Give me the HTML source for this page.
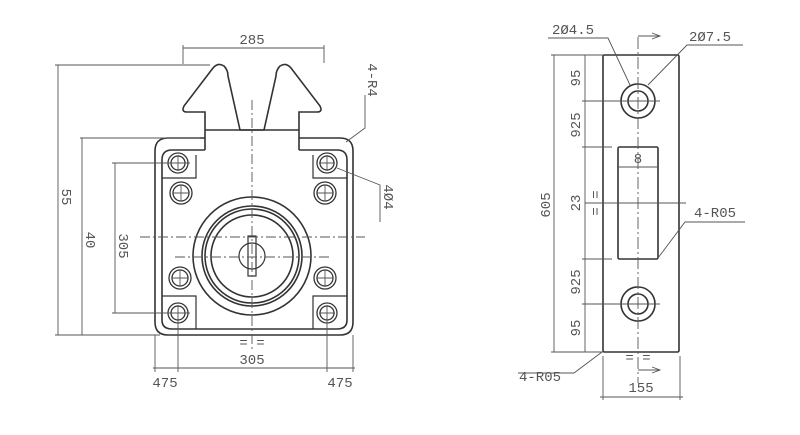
<!DOCTYPE html>
<html><head><meta charset="utf-8"><style>
html,body{margin:0;padding:0;background:#fff;}
svg{display:block}
text{font-family:"Liberation Mono","DejaVu Sans Mono",monospace;font-size:14px;fill:#555;}
</style></head><body>
<svg width="800" height="435" viewBox="0 0 800 435" xmlns="http://www.w3.org/2000/svg">
<g stroke="#333" fill="none" stroke-width="1.6">
 <path d="M205 138 H168 Q155 138 155 151 V322 Q155 335 168 335 H340 Q353 335 353 322 V151 Q353 138 340 138 H299"/>
 <path d="M205 150 H172 Q162 150 162 160 V320 Q162 329 172 329 H337 Q347 329 347 320 V160 Q347 150 337 150 H299"/>
 <path d="M205 150 V112 H187 Q181 112 184 106 L213 68 Q218 62 224 66 Q228 70 228 76 L240 130 H264 L276 76 Q276 70 280 66 Q286 62 291 68 L320 106 Q323 112 317 112 H299 V150"/>
 <path d="M205 130 H299"/>
 <path d="M162 178 H196 V155" stroke-width="1.2"/>
 <path d="M347 178 H313 V155" stroke-width="1.2"/>
 <path d="M162 296 H196 V329" stroke-width="1.2"/>
 <path d="M347 296 H313 V329" stroke-width="1.2"/>
 <g stroke-width="1.3">
 <circle cx="178" cy="163" r="10"/><circle cx="178" cy="163" r="7"/>
 <circle cx="327" cy="163" r="10"/><circle cx="327" cy="163" r="7"/>
 <circle cx="181" cy="193" r="11"/><circle cx="181" cy="193" r="8"/>
 <circle cx="325" cy="193" r="11"/><circle cx="325" cy="193" r="8"/>
 <circle cx="180" cy="278" r="11"/><circle cx="180" cy="278" r="8"/>
 <circle cx="325" cy="278" r="11"/><circle cx="325" cy="278" r="8"/>
 <circle cx="178" cy="313" r="10"/><circle cx="178" cy="313" r="7"/>
 <circle cx="327" cy="313" r="10"/><circle cx="327" cy="313" r="7"/>
 </g>
 <circle cx="252" cy="256" r="59"/>
 <circle cx="252" cy="256" r="50"/>
 <circle cx="252" cy="256" r="47"/>
 <circle cx="252" cy="256" r="41"/>
 <circle cx="252" cy="256" r="13" stroke-width="1.2"/>
 <rect x="248" y="236" width="8" height="40" stroke-width="1.2"/>
</g>
<g stroke="#555" fill="none" stroke-width="0.9">
 <path d="M252 100 V350" stroke-dasharray="10 3 2 3"/>
 <path d="M140 237 H365" stroke-dasharray="10 3 2 3"/>
 <path d="M175 257 H330" stroke-dasharray="10 3 2 3"/>
 <path d="M170 163 H190 M178 155 V171 M319 163 H335 M327 155 V171 M170 313 H190 M178 305 V321 M319 313 H335 M327 305 V321 M173 193 H189 M181 185 V201 M317 193 H333 M325 185 V201 M172 278 H188 M180 270 V286 M317 278 H333 M325 270 V286"/>
 <path d="M183 48 H324 M183 45 V64 M324 45 V63"/>
 <path d="M55 65 H210 M58 65 V335 M55 335 H160 M80 138 H200 M82 138 V335"/>
 <path d="M112 163 H175 M115 163 V313 M112 313 H175"/>
 <path d="M155 335 V372 M178 318 V372 M327 318 V372 M353 335 V372 M153 368 H355"/>
 <path d="M365 95 V128 L346 142 M380 222 V185 L337 168"/>
</g>
<g>
 <text x="252" y="44" text-anchor="middle">285</text>
 <text transform="translate(62,197) rotate(90)" text-anchor="middle">55</text>
 <text transform="translate(86,240) rotate(90)" text-anchor="middle">40</text>
 <text transform="translate(119,246) rotate(90)" text-anchor="middle">305</text>
 <text x="252" y="347" text-anchor="middle">= =</text>
 <text x="252" y="364" text-anchor="middle">305</text>
 <text x="165" y="387" text-anchor="middle">475</text>
 <text x="340" y="387" text-anchor="middle">475</text>
 <text transform="translate(368,80) rotate(90)" text-anchor="middle">4-R4</text>
 <text transform="translate(384,197) rotate(90)" text-anchor="middle">4Ø4</text>
</g>

<g stroke="#333" fill="none" stroke-width="1.6">
 <rect x="603" y="55" width="76" height="297" rx="1.5"/>
 <rect x="618" y="147" width="40" height="112" rx="1.5"/>
 <circle cx="638" cy="101" r="17"/><circle cx="638" cy="101" r="10"/>
 <circle cx="638" cy="304" r="17"/><circle cx="638" cy="304" r="10"/>
</g>
<g stroke="#555" fill="none" stroke-width="0.9">
 <path d="M638 37 V383" stroke-dasharray="12 3 2 3"/>
 <path d="M638 36 H660 M652 33 L660 36 L652 39 M638 370 H660 M652 367 L660 370 L652 373"/>
 <path d="M551 55 H603 M554 55 V352 M551 352 H603 M585 55 V352"/>
 <path d="M582 101 H660 M582 147 H612 M585 203 H686 M582 259 H612 M582 304 H660"/>
 <path d="M618 167 H658"/>
 <path d="M548 38 H608 L630 85 M743 45 H687 L648 85 M745 222 H685 L658 258 M518 373 H574 L602 352"/>
 <path d="M603 356 V400 M680 356 V400 M600 397 H683"/>
</g>
<g>
 <text x="573" y="34" text-anchor="middle">2Ø4.5</text>
 <text x="710" y="41" text-anchor="middle">2Ø7.5</text>
 <text transform="translate(550,205) rotate(-90)" text-anchor="middle">605</text>
 <text transform="translate(580,78) rotate(-90)" text-anchor="middle">95</text>
 <text transform="translate(580,125) rotate(-90)" text-anchor="middle">925</text>
 <text transform="translate(580,203) rotate(-90)" text-anchor="middle">23</text>
 <text transform="translate(580,282) rotate(-90)" text-anchor="middle">925</text>
 <text transform="translate(580,328) rotate(-90)" text-anchor="middle">95</text>
 <text transform="translate(600,203) rotate(-90)" text-anchor="middle">=  =</text>
 <text x="638" y="163" text-anchor="middle">8</text>
 <text x="715" y="217" text-anchor="middle">4-R05</text>
 <text x="540" y="381" text-anchor="middle">4-R05</text>
 <text x="638" y="362" text-anchor="middle">= =</text>
 <text x="641" y="392" text-anchor="middle">155</text>
</g>
</svg>
</body></html>
